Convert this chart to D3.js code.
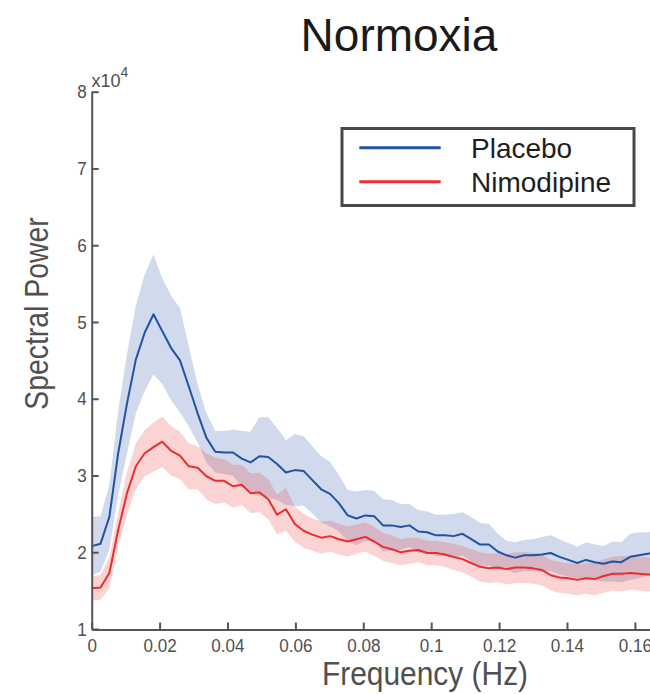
<!DOCTYPE html>
<html>
<head>
<meta charset="utf-8">
<script src="https://cdn.jsdelivr.net/npm/d3@7/dist/d3.min.js"></script>
<style>
  html, body { margin: 0; padding: 0; background: #fff; }
  svg { display: block; }
  .axis path, .axis line { stroke: #555; }
  .axis text { fill: #505050; font-family: "Liberation Sans", Arial, sans-serif; }
</style>
</head>
<body>
<div id="chart"></div>
<script>
// Frequency grid (Hz)
const frequency = [
  0.0000, 0.0026, 0.0052, 0.0078, 0.0104, 0.0130, 0.0156, 0.0182, 0.0208, 0.0234,
  0.0260, 0.0286, 0.0312, 0.0338, 0.0364, 0.0390, 0.0416, 0.0442, 0.0468, 0.0494,
  0.0520, 0.0546, 0.0572, 0.0598, 0.0624, 0.0650, 0.0676, 0.0702, 0.0728, 0.0754,
  0.0780, 0.0806, 0.0832, 0.0858, 0.0884, 0.0910, 0.0936, 0.0962, 0.0988, 0.1014,
  0.1040, 0.1066, 0.1092, 0.1118, 0.1144, 0.1170, 0.1196, 0.1222, 0.1248, 0.1274,
  0.1300, 0.1326, 0.1352, 0.1378, 0.1404, 0.1430, 0.1456, 0.1482, 0.1508, 0.1534,
  0.1560, 0.1586, 0.1612, 0.1638, 0.1664
];

// Mean spectral power (x10^4), placebo group
const placeboMean = [
  2.08, 2.11, 2.46, 3.29, 3.94, 4.51, 4.86, 5.10, 4.88, 4.66,
  4.50, 4.16, 3.81, 3.49, 3.31, 3.30, 3.30, 3.22, 3.17, 3.25,
  3.24, 3.15, 3.04, 3.07, 3.06, 2.94, 2.82, 2.76, 2.64, 2.48,
  2.44, 2.48, 2.47, 2.35, 2.35, 2.33, 2.35, 2.27, 2.26, 2.22,
  2.22, 2.21, 2.24, 2.17, 2.10, 2.10, 2.01, 1.96, 1.93, 1.96,
  1.96, 1.97, 1.99, 1.94, 1.90, 1.86, 1.90, 1.87, 1.85, 1.88,
  1.87, 1.94, 1.96, 1.98, 1.99
];
// Standard error, placebo group
const placeboSem = [
  0.38, 0.36, 0.42, 0.55, 0.65, 0.70, 0.76, 0.78, 0.69, 0.68,
  0.68, 0.52, 0.38, 0.32, 0.27, 0.28, 0.30, 0.36, 0.40, 0.51,
  0.52, 0.47, 0.42, 0.47, 0.45, 0.44, 0.43, 0.42, 0.37, 0.33,
  0.35, 0.33, 0.33, 0.34, 0.33, 0.30, 0.28, 0.28, 0.27, 0.27,
  0.27, 0.29, 0.28, 0.29, 0.28, 0.27, 0.23, 0.19, 0.20, 0.20,
  0.21, 0.23, 0.23, 0.23, 0.22, 0.21, 0.23, 0.23, 0.23, 0.26,
  0.26, 0.30, 0.30, 0.28, 0.28
];

// Mean spectral power (x10^4), nimodipine group
const nimodipineMean = [
  1.53, 1.54, 1.73, 2.29, 2.77, 3.12, 3.29, 3.37, 3.44, 3.32,
  3.26, 3.12, 3.10, 2.99, 2.93, 2.93, 2.86, 2.88, 2.77, 2.78,
  2.69, 2.49, 2.56, 2.37, 2.28, 2.23, 2.19, 2.21, 2.17, 2.14,
  2.17, 2.20, 2.14, 2.07, 2.04, 2.00, 2.02, 2.03, 1.99, 1.99,
  1.97, 1.94, 1.91, 1.86, 1.81, 1.79, 1.80, 1.78, 1.80, 1.80,
  1.79, 1.77, 1.70, 1.67, 1.66, 1.64, 1.66, 1.65, 1.69, 1.72,
  1.72, 1.73, 1.72, 1.71, 1.71
];
// Standard error, nimodipine group
const nimodipineSem = [
  0.16, 0.16, 0.20, 0.22, 0.28, 0.30, 0.30, 0.32, 0.33, 0.32,
  0.31, 0.30, 0.28, 0.30, 0.30, 0.28, 0.28, 0.26, 0.26, 0.26,
  0.26, 0.26, 0.28, 0.23, 0.22, 0.21, 0.21, 0.20, 0.20, 0.20,
  0.19, 0.19, 0.19, 0.18, 0.18, 0.17, 0.17, 0.16, 0.16, 0.16,
  0.16, 0.17, 0.17, 0.18, 0.19, 0.19, 0.19, 0.20, 0.20, 0.20,
  0.20, 0.20, 0.20, 0.20, 0.20, 0.20, 0.20, 0.21, 0.22, 0.22,
  0.23, 0.22, 0.22, 0.22, 0.22
];

// Axis ticks
const xTicks = [0, 0.02, 0.04, 0.06, 0.08, 0.1, 0.12, 0.14, 0.16];
const xTickLabels = ["0", "0.02", "0.04", "0.06", "0.08", "0.1", "0.12", "0.14", "0.16"];
const yTicks = [1, 2, 3, 4, 5, 6, 7, 8];
const yTickLabels = ["1", "2", "3", "4", "5", "6", "7", "8"];

const seriesNames = ["Placebo", "Nimodipine"];
const seriesColors = ["#2152a3", "#ec2d2d"];
const bandColors = ["rgba(33,82,163,0.21)", "rgba(236,45,45,0.21)"];

const W = 650, H = 694;
const svg = d3.select("#chart").append("svg").attr("width", W).attr("height", H);

const x = d3.scaleLinear().domain([0, 0.165]).range([91.7, 91.7 + 0.165 * 3395]);
const y = d3.scaleLinear().domain([1, 8]).range([629, 91.7]);

const series = [
  { mean: placeboMean, sem: placeboSem },
  { mean: nimodipineMean, sem: nimodipineSem }
].map((s, k) => ({
  name: seriesNames[k],
  color: seriesColors[k],
  band: bandColors[k],
  pts: frequency.map((f, i) => ({ f, m: s.mean[i], e: s.sem[i] }))
}));

// Mean ± SEM bands, then the mean traces on top
const area = d3.area()
  .x(d => x(d.f))
  .y0(d => y(d.m - d.e))
  .y1(d => y(d.m + d.e));
const line = d3.line().x(d => x(d.f)).y(d => y(d.m));

const plot = svg.append("g");
series.forEach(s => {
  plot.append("path").attr("d", area(s.pts)).attr("fill", s.band).attr("stroke", "none");
});
series.forEach(s => {
  plot.append("path").attr("d", line(s.pts)).attr("fill", "none")
    .attr("stroke", s.color).attr("stroke-width", 2).attr("stroke-linejoin", "round");
});

// Axes with inward ticks
const xAxis = d3.axisBottom(x).tickValues(xTicks)
  .tickFormat((d, i) => xTickLabels[i]).tickSizeInner(-7).tickSizeOuter(0).tickPadding(9);
const gx = svg.append("g").attr("class", "axis").attr("transform", "translate(0,629.5)").call(xAxis);
gx.select(".domain").attr("stroke-width", 2);
gx.selectAll(".tick line").attr("stroke-width", 2);
gx.selectAll(".tick text").attr("font-size", 19).attr("dy", "0.71em")
  .style("transform-box", "fill-box").style("transform-origin", "center")
  .style("transform", "scaleX(0.9)");

const yAxis = d3.axisLeft(y).tickValues(yTicks)
  .tickFormat((d, i) => yTickLabels[i]).tickSizeInner(-7).tickSizeOuter(0).tickPadding(5);
const gy = svg.append("g").attr("class", "axis").attr("transform", "translate(91.7,0)").call(yAxis);
gy.select(".domain").attr("stroke-width", 2);
gy.selectAll(".tick line").attr("stroke-width", 2);
gy.selectAll(".tick text").attr("font-size", 19)
  .style("transform-box", "fill-box").style("transform-origin", "right center")
  .style("transform", "scaleX(0.9)");

// Exponent label above the y axis
const expo = svg.append("text").attr("x", 91.5).attr("y", 86.5)
  .attr("fill", "#505050").attr("font-family", "Liberation Sans, Arial, sans-serif")
  .attr("font-size", 18);
expo.append("tspan").text("x10");
expo.append("tspan").attr("font-size", 14).attr("dy", -10).text("4");

// Title
svg.append("text").attr("x", 399).attr("y", 51).attr("text-anchor", "middle")
  .attr("font-family", "Liberation Sans, Arial, sans-serif").attr("font-size", 46)
  .attr("fill", "#1a1a1a").text("Normoxia");

// Axis titles (condensed)
svg.append("text").attr("transform", "translate(425,685) scale(0.88,1)")
  .attr("text-anchor", "middle").attr("font-family", "Liberation Sans, Arial, sans-serif")
  .attr("font-size", 34).attr("fill", "#505050").text("Frequency (Hz)");
svg.append("text").attr("transform", "translate(47.5,313.5) rotate(-90) scale(0.86,1)")
  .attr("text-anchor", "middle").attr("font-family", "Liberation Sans, Arial, sans-serif")
  .attr("font-size", 33).attr("fill", "#505050").text("Spectral Power");

// Legend
const lg = svg.append("g");
lg.append("rect").attr("x", 342).attr("y", 128.5).attr("width", 292).attr("height", 77)
  .attr("fill", "#fff").attr("stroke", "#484848").attr("stroke-width", 3);
const legendRowY = [147.7, 181.7];
series.forEach((s, k) => {
  lg.append("line").attr("x1", 359.3).attr("x2", 440.7)
    .attr("y1", legendRowY[k]).attr("y2", legendRowY[k])
    .attr("stroke", s.color).attr("stroke-width", 3);
  lg.append("text").attr("x", 471).attr("y", legendRowY[k] + 10.5)
    .attr("font-family", "Liberation Sans, Arial, sans-serif").attr("font-size", 28)
    .attr("fill", "#1e1e1e").text(s.name);
});
</script>
</body>
</html>
